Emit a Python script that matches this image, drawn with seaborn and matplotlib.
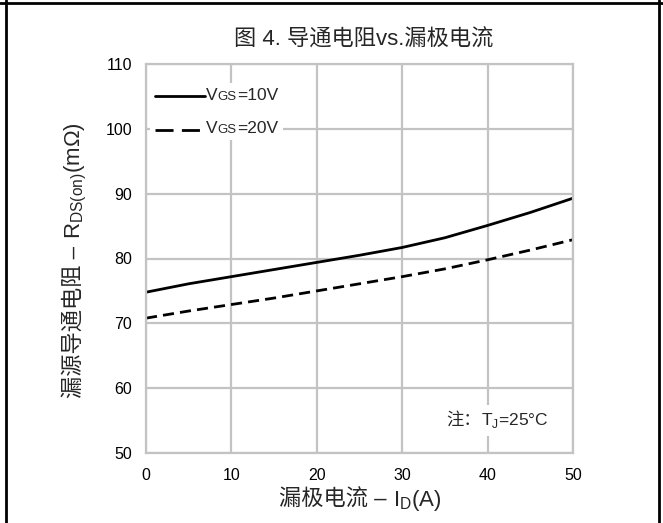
import numpy as np
import pandas as pd
import seaborn as sns
import matplotlib
matplotlib.use("Agg")
import matplotlib.pyplot as plt
from matplotlib.lines import Line2D
from matplotlib.offsetbox import TextArea, HPacker, VPacker, DrawingArea, AnchoredOffsetbox

# ---- data ----
id_a = [0, 5, 10, 15, 20, 25, 30, 35, 40, 45, 50]
rds_10v = [74.8, 76.1, 77.2, 78.3, 79.4, 80.5, 81.7, 83.2, 85.1, 87.1, 89.3]
rds_20v = [70.8, 71.9, 72.9, 73.9, 75.0, 76.1, 77.2, 78.4, 79.8, 81.3, 82.9]
series_names = ["10V", "20V"]
x_ticks = [0, 10, 20, 30, 40, 50]
y_ticks = [50, 60, 70, 80, 90, 100, 110]

title = "图 4. 导通电阻vs.漏极电流"
xlabel_parts = ["漏极电流 – ", "I$_\\mathregular{D}$(A)"]
ylabel_parts = ["漏源导通电阻 – ", "R$_\\mathregular{DS(on)}$(mΩ)"]
note_parts = ["注：", "T$_\\mathregular{J}$=25°C"]

sns.set_theme(style="white")
fam = ["Liberation Sans", "Noto Sans CJK SC", "DejaVu Sans"]
plt.rcParams["font.family"] = fam
plt.rcParams["mathtext.fontset"] = "custom"
plt.rcParams["mathtext.rm"] = "Liberation Sans"

W, H = 663, 523
df = pd.DataFrame({
    "ID": id_a * 2,
    "RDS": rds_10v + rds_20v,
    "VGS": [series_names[0]] * len(id_a) + [series_names[1]] * len(id_a),
})

fig = plt.figure(figsize=(W / 100, H / 100), dpi=100)
ax = fig.add_axes([146 / W, 1 - 453 / H, (573 - 146) / W, (453 - 64) / H])

sns.lineplot(data=df, x="ID", y="RDS", style="VGS", ax=ax, color="black",
             linewidth=2.0, dashes={"10V": "", "20V": (4, 2.2)}, legend=False)

ax.set_xlim(0, 50)
ax.set_ylim(50, 110)
ax.set_xticks(x_ticks)
ax.set_yticks(y_ticks)
ax.tick_params(axis="x", length=0, pad=11, labelsize=11.5, colors="black")
ax.tick_params(axis="y", length=0, pad=10, labelsize=11.5, colors="black")
grid_c = "#c3c3c3"
ax.grid(True, color=grid_c, linewidth=1.6)
for s in ax.spines.values():
    s.set_color(grid_c)
    s.set_linewidth(1.6)
ax.set_axisbelow(True)
ax.set_xlabel("")
ax.set_ylabel("")

fig.text(364 / W, 1 - 40 / H, title, fontsize=16, ha="center", va="center")

renderer = fig.canvas.get_renderer()


def place_parts(parts, cx, cy, size, vertical=False, bbox=None):
    """Place text parts one after another along a common baseline, centred at (cx, cy) px."""
    texts = []
    for p in parts:
        kw = dict(fontsize=size, ha="left", va="baseline", transform=None)
        if vertical:
            kw.update(rotation=90, rotation_mode="anchor")
        if bbox is not None:
            kw["bbox"] = bbox
        t = fig.text(0, 0, p, **kw)
        texts.append(t)
    lengths = []
    for t in texts:
        bb = t.get_window_extent(renderer)
        lengths.append(bb.height if vertical else bb.width)
    total = sum(lengths)
    pos = -total / 2
    for t, L in zip(texts, lengths):
        if vertical:
            t.set_position((cx, H - cy + pos))
        else:
            t.set_position((cx + pos, H - cy))
        pos += L
    return texts


# x label (baseline y in px from top), y label (baseline x)
place_parts(xlabel_parts, 360, 506, 16)
place_parts(ylabel_parts, 80, 260, 16, vertical=True)

# note with white background
place_parts(note_parts, 497, 425, 12.5,
            bbox=dict(facecolor="white", edgecolor="none", pad=4))


# custom legend: V + small GS + =10V
def row(ls, val):
    da = DrawingArea(36, 10, 0, 0)
    ln = Line2D([0, 36], [4, 4], color="black", linewidth=2.0, linestyle=ls)
    da.add_artist(ln)
    txt = HPacker(children=[
        TextArea("V", textprops=dict(fontsize=12.5, family=fam)),
        TextArea("GS", textprops=dict(fontsize=9.5, family=fam)),
        TextArea("=" + val, textprops=dict(fontsize=12.5, family=fam)),
    ], align="baseline", pad=0, sep=0)
    return HPacker(children=[da, txt], align="center", pad=0, sep=1)


leg = VPacker(children=[row("-", series_names[0]), row((0, (6.5, 3)), series_names[1])],
              align="left", pad=0, sep=13)
ab = AnchoredOffsetbox(loc="upper left", child=leg, pad=0.3, borderpad=0,
                       frameon=True, bbox_to_anchor=(150 / W, 1 - 83 / H),
                       bbox_transform=fig.transFigure)
ab.patch.set_edgecolor("none")
ab.patch.set_facecolor("white")
ab.set_zorder(6)
ax.add_artist(ab)

# outer table border
fig.add_artist(Line2D([0, 1], [1 - 3 / H, 1 - 3 / H], transform=fig.transFigure,
                      color="black", linewidth=2))
fig.add_artist(Line2D([6 / W, 6 / W], [0, 1], transform=fig.transFigure,
                      color="black", linewidth=2))
fig.add_artist(Line2D([659 / W, 659 / W], [0, 1], transform=fig.transFigure,
                      color="black", linewidth=2))

fig.savefig("out.png", dpi=100, facecolor="white")
